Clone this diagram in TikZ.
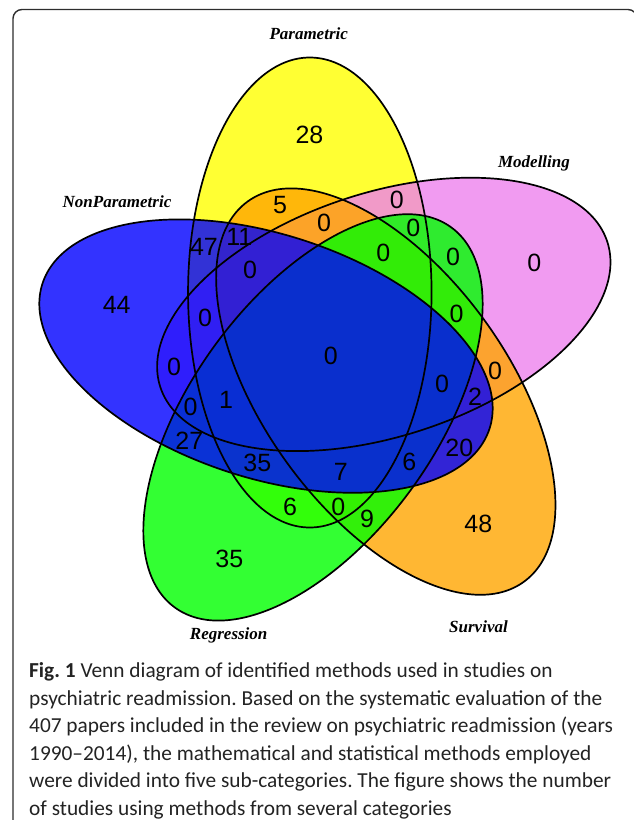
\documentclass[tikz,border=0pt]{standalone}
\usepackage{fontspec}
\setmainfont{Carlito}
\newfontfamily\numfont{Liberation Sans}
\newfontfamily\labfont{Liberation Serif}
\definecolor{cyel}{RGB}{255,255,0}
\definecolor{cvio}{RGB}{238,130,238}
\definecolor{cora}{RGB}{255,165,0}
\definecolor{cgre}{RGB}{0,255,0}
\definecolor{cblu}{RGB}{0,0,255}
\definecolor{cframe}{RGB}{45,45,45}
\definecolor{ccap}{RGB}{35,35,35}
\newsavebox\capbox
\newdimen\capw
\frenchspacing
\begin{document}
\sbox\capbox{\fontsize{10}{12}\selectfont were divided into five sub-categories. The figure shows the number}%
\capw=\wd\capbox
\pgfmathsetmacro\capsz{10*582/\capw}%
\begin{tikzpicture}[x=1pt,y=1pt,
  vfill/.style={fill=#1, fill opacity=0.8, draw=none},
  vline/.style={draw=black, line width=1.7pt, fill=none},
  num/.style={inner sep=0pt, font=\numfont\fontsize{25}{27}\selectfont},
  setlab/.style={inner sep=0pt, anchor=base, font=\labfont\bfseries\itshape\fontsize{17}{19}\selectfont},
  capline/.style={inner sep=0pt, anchor=base west, text=ccap, font=\fontsize{\capsz}{\capsz}\selectfont}]
\useasboundingbox (0,0) rectangle (634,-820);
\clip (0,0) rectangle (634,-820);
% frame
\draw[cframe, line width=1.4pt, rounded corners=9pt] (13,-850) rectangle (637,-9.5);
% ellipse centres
\coordinate (cY) at (309.8,-292.5);
\coordinate (cP) at (383.8,-314.4);
\coordinate (cO) at (385.8,-391.6);
\coordinate (cG) at (313.0,-417.4);
\coordinate (cB) at (266.0,-356.1);
% fills (order matters)
\path[vfill=cyel, shift={(cY)}, rotate=90] (0,0) ellipse (235pt and 121.75pt);
\path[vfill=cvio, shift={(cP)}, rotate=18] (0,0) ellipse (235pt and 121.75pt);
\path[vfill=cora, shift={(cO)}, rotate=126] (0,0) ellipse (235pt and 121.75pt);
\path[vfill=cgre, shift={(cG)}, rotate=54] (0,0) ellipse (235pt and 121.75pt);
\path[vfill=cblu, shift={(cB)}, rotate=162] (0,0) ellipse (235pt and 121.75pt);
% outlines
\path[vline, shift={(cY)}, rotate=90] (0,0) ellipse (235pt and 121.75pt);
\path[vline, shift={(cP)}, rotate=18] (0,0) ellipse (235pt and 121.75pt);
\path[vline, shift={(cO)}, rotate=126] (0,0) ellipse (235pt and 121.75pt);
\path[vline, shift={(cG)}, rotate=54] (0,0) ellipse (235pt and 121.75pt);
\path[vline, shift={(cB)}, rotate=162] (0,0) ellipse (235pt and 121.75pt);
% set labels
\node[setlab] (lP) at (308.7,-39) {Parametric};
\node[setlab] (lM) at (534,-167) {Modelling};
\node[setlab] (lN) at (117,-207) {NonParametric};
\node[setlab] (lR) at (228.7,-639) {Regression};
\node[setlab] (lS) at (478.5,-632) {Survival};
% region counts
\node[num] (n01) at (309.5,-135) {28};
\node[num] (n02) at (280,-205) {5};
\node[num] (n03) at (324,-223) {0};
\node[num] (n04) at (396.7,-200) {0};
\node[num] (n05) at (413.3,-228.3) {0};
\node[num] (n06) at (383.3,-253.3) {0};
\node[num] (n07) at (453,-256.5) {0};
\node[num] (n08) at (534.3,-263.3) {0};
\node[num] (n09) at (204,-246.5) {47};
\node[num] (n10) at (239.3,-236.7) {11};
\node[num] (n11) at (250,-270) {0};
\node[num] (n12) at (116.7,-305) {44};
\node[num] (n13) at (205,-318.3) {0};
\node[num] (n14) at (456.5,-314) {0};
\node[num] (n15) at (174,-366.5) {0};
\node[num] (n16) at (330.7,-356) {0};
\node[num] (n17) at (495,-370.7) {0};
\node[num] (n18) at (442,-384) {0};
\node[num] (n19) at (475,-397) {2};
\node[num] (n20) at (226,-400) {1};
\node[num] (n21) at (190.5,-407) {0};
\node[num] (n22) at (189.3,-440.7) {27};
\node[num] (n23) at (459.3,-448.3) {20};
\node[num] (n24) at (257.3,-463.3) {35};
\node[num] (n25) at (340.7,-471.7) {7};
\node[num] (n26) at (409.3,-461.7) {6};
\node[num] (n27) at (290,-506.7) {6};
\node[num] (n28) at (338.3,-507.3) {0};
\node[num] (n29) at (367,-519.3) {9};
\node[num] (n30) at (478.3,-524) {48};
\node[num] (n31) at (229.3,-559.3) {35};
% caption
\node[capline] (cap1) at (29,-677.5) {\textbf{Fig. 1} Venn diagram of identified methods used in studies on};
\node[capline] (cap2) at (29,-705) {psychiatric readmission. Based on the systematic evaluation of the};
\node[capline] (cap3) at (29,-732.5) {407 papers included in the review on psychiatric readmission (years};
\node[capline] (cap4) at (29,-760) {1990--2014), the mathematical and statistical methods employed};
\node[capline] (cap5) at (29,-787.5) {were divided into five sub-categories. The figure shows the number};
\node[capline] (cap6) at (29,-815) {of studies using methods from several categories};
\end{tikzpicture}
\end{document}
